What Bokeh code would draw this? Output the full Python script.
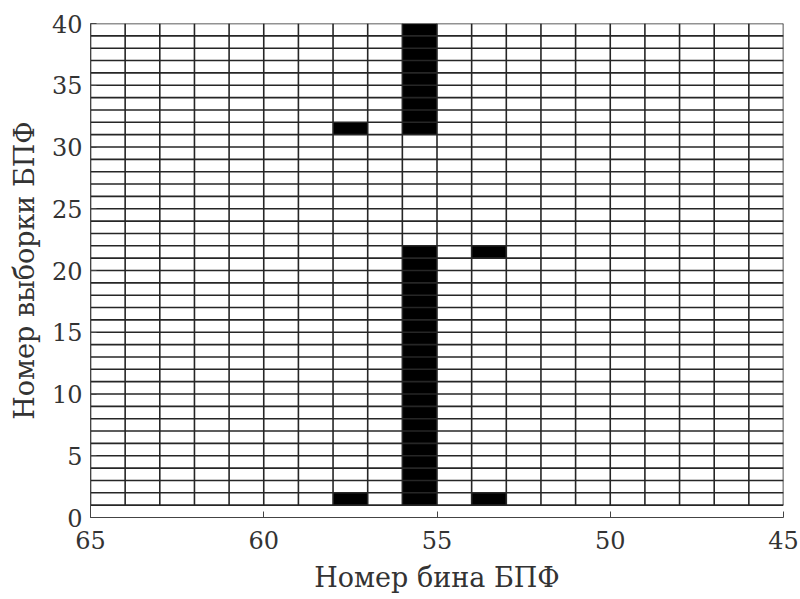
from bokeh.plotting import figure
from bokeh.models import Range1d, FixedTicker
from bokeh.embed import file_html
from bokeh.resources import INLINE

# FFT bin edges (x) and FFT frame edges (y)
bin_edges = list(range(45, 66))
frame_edges = list(range(1, 41))

# Active (black) cells: bin ranges and frame ranges
cell_bin_lo = [55, 57, 53, 53, 55, 57]
cell_bin_hi = [56, 58, 54, 54, 56, 58]
cell_frame_lo = [1, 1, 1, 21, 31, 31]
cell_frame_hi = [22, 2, 2, 22, 40, 32]

x_ticks = [65, 60, 55, 50, 45]
y_ticks = [0, 5, 10, 15, 20, 25, 30, 35, 40]

FONT = "DejaVu Serif"

p = figure(width=800, height=599, output_backend="svg", toolbar_location=None,
           x_range=Range1d(65, 45), y_range=Range1d(0, 40),
           min_border_left=90, min_border_right=17, min_border_top=23,
           min_border_bottom=82)
p.outline_line_color = None
p.xgrid.visible = False
p.ygrid.visible = False

p.quad(left=cell_bin_lo, right=cell_bin_hi, bottom=cell_frame_lo, top=cell_frame_hi,
       fill_color="black", line_color=None)

ymin, ymax = frame_edges[0], frame_edges[-1]
xmin, xmax = bin_edges[0], bin_edges[-1]
p.segment(x0=bin_edges, x1=bin_edges, y0=[ymin] * len(bin_edges), y1=[ymax] * len(bin_edges),
          line_color="#262626", line_width=1.6)
p.segment(x0=[xmin] * len(frame_edges), x1=[xmax] * len(frame_edges), y0=frame_edges, y1=frame_edges,
          line_color="#262626", line_width=1.6)

for ax in (p.xaxis[0], p.yaxis[0]):
    ax.major_tick_in = 6
    ax.major_tick_out = 0
    ax.minor_tick_line_color = None
    ax.axis_line_color = "#444444"
    ax.major_tick_line_color = "#444444"
    ax.major_label_text_font = FONT
    ax.major_label_text_font_size = "24px"
    ax.major_label_text_color = "#333333"
    ax.axis_label_text_font = FONT
    ax.axis_label_text_font_size = "27px"
    ax.axis_label_text_font_style = "normal"
    ax.axis_label_text_color = "#333333"

p.xaxis.ticker = FixedTicker(ticks=x_ticks)
p.yaxis.ticker = FixedTicker(ticks=y_ticks)
p.xaxis.axis_label = "Номер бина БПФ"
p.yaxis.axis_label = "Номер выборки БПФ"
p.xaxis.major_label_standoff = 13
p.yaxis.major_label_standoff = 8
p.xaxis.axis_label_standoff = 10
p.yaxis.axis_label_standoff = 9

open("out.html", "w").write(file_html(p, INLINE))
